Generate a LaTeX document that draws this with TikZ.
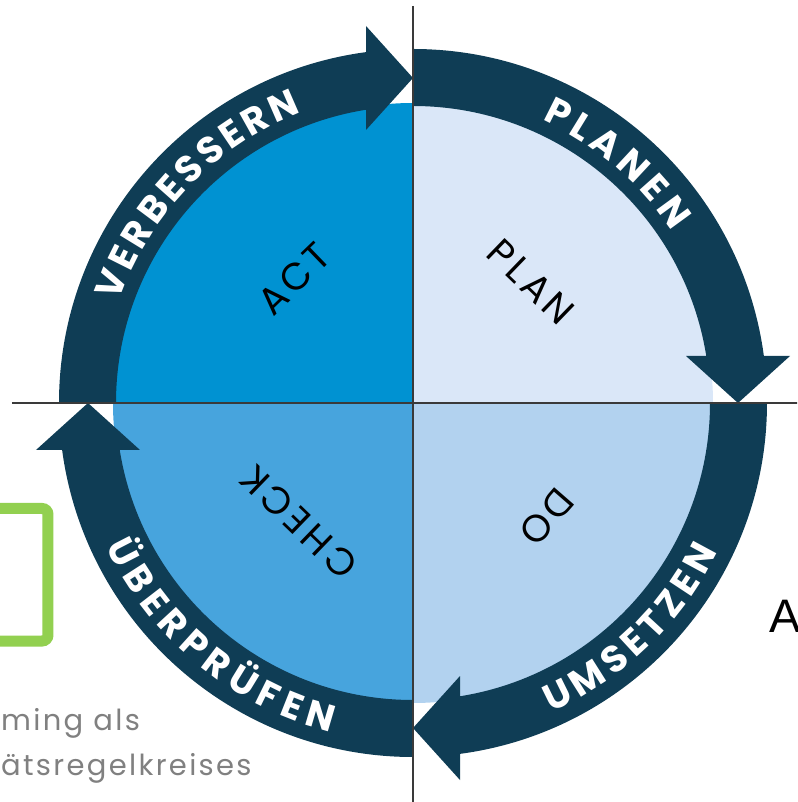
\documentclass[tikz,border=0pt]{standalone}
\usepackage{fontspec}
\usetikzlibrary{decorations.text}
\newfontfamily\ringfam{Poppins}
\newfontfamily\innerfam[LetterSpace=11]{Poppins}
\newfontfamily\grayfam[LetterSpace=8]{Poppins}
\newfontfamily\afam{Liberation Sans}
\newcommand\ringfont{\ringfam\bfseries\fontsize{37.5}{42}\selectfont}
\definecolor{navy}{HTML}{0F3D55}
\definecolor{actc}{HTML}{0092D2}
\definecolor{planc}{HTML}{DAE7F8}
\definecolor{checkc}{HTML}{47A4DD}
\definecolor{doc}{HTML}{B2D2EF}
\definecolor{axisc}{HTML}{3A3A3A}
\definecolor{greenc}{HTML}{92D050}
\definecolor{grayc}{HTML}{808080}
\begin{document}
\begin{tikzpicture}[x=1pt,y=1pt,
  ringtext/.style={decorate, decoration={text along path, text align={fit to path}, text color=white}},
  innertext/.style={font=\innerfam\fontsize{38}{42}\selectfont, inner sep=0pt, text=black},
  graytext/.style={font=\grayfam\fontsize{29}{35}\selectfont, inner sep=0pt, anchor=base west, text=grayc},
  axis/.style={draw=axisc, line width=1.8pt}]
\useasboundingbox (-413,-399) rectangle (384,403);
\clip (-413,-399) rectangle (384,403);
% background fragments
\draw[greenc, line width=11pt, rounded corners=6pt] (-470,-105.5) -- (-365,-105.5) -- (-365,-238) -- (-470,-238);
\node[graytext] (g1) at (-412,-327) {ming als};
\node[graytext] (g2) at (-412,-372) {ätsregelkreises};
\node[anchor=base west, inner sep=0pt, font=\afam\fontsize{47}{50}\selectfont, text=black] (bigA) at (356,-229) {A};
% quadrants
\fill[planc]  (0,0) -- (90:300pt)  arc[start angle=90,  end angle=0,   radius=300pt] -- cycle;
\fill[doc]    (0,0) -- (0:300pt)   arc[start angle=0,   end angle=-90, radius=300pt] -- cycle;
\fill[checkc] (0,0) -- (270:300pt) arc[start angle=270, end angle=180, radius=300pt] -- cycle;
\fill[actc]   (0,0) -- (180:300pt) arc[start angle=180, end angle=90,  radius=300pt] -- cycle;
% ring arrows
\foreach \rr in {0,-90,-180,-270}{
  \begin{scope}[rotate=\rr]
    \fill[navy] (180:354pt) arc[start angle=180, end angle=97, radius=354pt]
       -- (97:297pt) arc[start angle=97, end angle=180, radius=297pt] -- cycle;
    \fill[navy] (0,325) -- (-47,377) -- (-47,273) -- cycle;
  \end{scope}
}
% axes
\coordinate (vtop) at (0,397);
\coordinate (vbot) at (0,-405);
\coordinate (hleft) at (-401,0);
\coordinate (hright) at (395,0);
\draw[axis] (vtop) -- (vbot);
\draw[axis] (hleft) -- (hright);
% ring texts
\path[ringtext, decoration={text={|\ringfont|VERBESSERN}}] (161:311pt) arc[start angle=161, end angle=111, radius=311pt];
\path[ringtext, decoration={text={|\ringfont|PLANEN}}] (65.5:311pt) arc[start angle=65.5, end angle=33.5, radius=311pt];
\path[ringtext, decoration={text={|\ringfont|UMSETZEN}}] (-66:339pt) arc[start angle=-66, end angle=-26, radius=339pt];
\path[ringtext, decoration={text={|\ringfont|ÜBERPRÜFEN}}] (205:339pt) arc[start angle=205, end angle=256, radius=339pt];
% inner texts
\node[innertext, rotate=-44] (plan) at (118,121) {PLAN};
\node[innertext, rotate=44] (act) at (-119,124) {ACT};
\node[innertext, rotate=-131] (do) at (134,-114) {DO};
\node[innertext, rotate=136] (check) at (-114,-119) {CHECK};
\end{tikzpicture}
\end{document}
